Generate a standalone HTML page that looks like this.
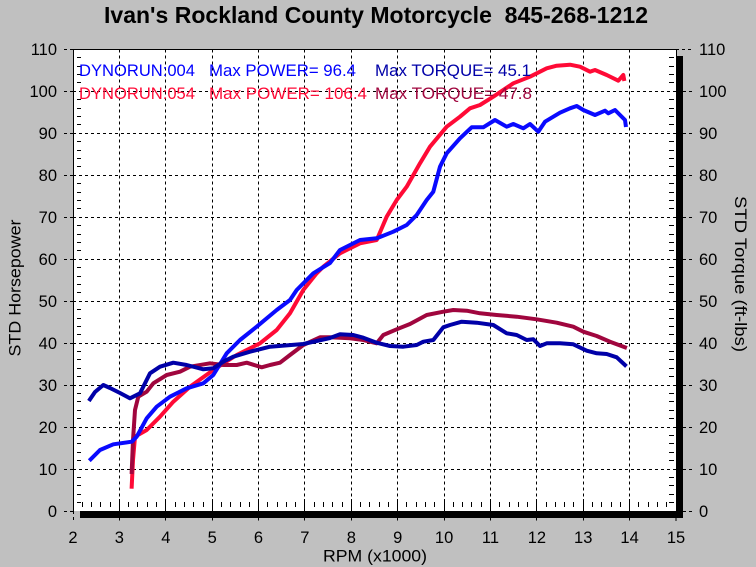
<!DOCTYPE html>
<html>
<head>
<meta charset="utf-8">
<style>
  html, body { margin: 0; padding: 0; background: #c0c0c0; }
  svg { display: block; }
  text { font-family: "Liberation Sans", Arial, sans-serif; }
</style>
</head>
<body>
<svg width="756" height="567" viewBox="0 0 756 567" xmlns="http://www.w3.org/2000/svg">
  <rect x="0" y="0" width="756" height="567" fill="#c0c0c0"/>

  <!-- Title -->
  <text x="104" y="23" font-size="23" font-weight="bold" fill="#000" textLength="544" lengthAdjust="spacingAndGlyphs" xml:space="preserve">Ivan's Rockland County Motorcycle  845-268-1212</text>

  <!-- Plot area -->
  <rect x="73" y="49.5" width="603" height="461.5" fill="#fff"/>

  <!-- Shadow -->
  <rect x="676" y="56" width="7" height="462" fill="#000"/>
  <rect x="80" y="511" width="603" height="7" fill="#000"/>

  <!-- Grid dashed -->
  <g stroke="#000" stroke-width="1" stroke-dasharray="3 3" fill="none">
    <path d="M119.5 49.5V523 M165.5 49.5V523 M212.5 49.5V523 M258.5 49.5V523 M304.5 49.5V523 M351.5 49.5V523 M397.5 49.5V523 M444.5 49.5V523 M490.5 49.5V523 M536.5 49.5V523 M583.5 49.5V523 M629.5 49.5V523 M676 518V523 M73.5 511V523"/>
    <path d="M73 469.5H676 M73 427.5H676 M73 385.5H676 M73 343.5H676 M73 301.5H676 M73 259.5H676 M73 217.5H676 M73 175.5H676 M73 133.5H676 M73 91.5H676"/>
    <!-- left outer ticks -->
    <path d="M64 511.5H73 M64 469.5H73 M64 427.5H73 M64 385.5H73 M64 343.5H73 M64 301.5H73 M64 259.5H73 M64 217.5H73 M64 175.5H73 M64 133.5H73 M64 91.5H73 M64 49.5H73"/>
    <!-- right outer ticks -->
    <path d="M683 511.5H692 M683 469.5H692 M683 427.5H692 M683 385.5H692 M683 343.5H692 M683 301.5H692 M683 259.5H692 M683 217.5H692 M683 175.5H692 M683 133.5H692 M683 91.5H692 M676 49.5H692"/>
  </g>

  <!-- Borders -->
  <path d="M73.5 511V49.5H676.5V56" stroke="#000" stroke-width="1" fill="none"/>

  <!-- Minor ticks -->
  <g stroke="#000" stroke-width="1" fill="none">
    <path d="M77 502.5h4M77 494.5h4M77 485.5h4M77 477.5h4M77 460.5h4M77 452.5h4M77 443.5h4M77 435.5h4M77 418.5h4M77 410.5h4M77 401.5h4M77 393.5h4M77 376.5h4M77 368.5h4M77 359.5h4M77 351.5h4M77 334.5h4M77 326.5h4M77 318.5h4M77 309.5h4M77 292.5h4M77 284.5h4M77 276.5h4M77 267.5h4M77 250.5h4M77 242.5h4M77 234.5h4M77 225.5h4M77 208.5h4M77 200.5h4M77 192.5h4M77 183.5h4M77 166.5h4M77 158.5h4M77 150.5h4M77 141.5h4M77 124.5h4M77 116.5h4M77 108.5h4M77 99.5h4M77 82.5h4M77 74.5h4M77 66.5h4M77 57.5h4"/>
    <path d="M669 502.5h5M669 494.5h5M669 485.5h5M669 477.5h5M669 460.5h5M669 452.5h5M669 443.5h5M669 435.5h5M669 418.5h5M669 410.5h5M669 401.5h5M669 393.5h5M669 376.5h5M669 368.5h5M669 359.5h5M669 351.5h5M669 334.5h5M669 326.5h5M669 318.5h5M669 309.5h5M669 292.5h5M669 284.5h5M669 276.5h5M669 267.5h5M669 250.5h5M669 242.5h5M669 234.5h5M669 225.5h5M669 208.5h5M669 200.5h5M669 192.5h5M669 183.5h5M669 166.5h5M669 158.5h5M669 150.5h5M669 141.5h5M669 124.5h5M669 116.5h5M669 108.5h5M669 99.5h5M669 82.5h5M669 74.5h5M669 66.5h5M669 57.5h5"/>
    <path d="M82.5 502v5M91.5 502v5M100.5 502v5M110.5 502v5M128.5 502v5M137.5 502v5M147.5 502v5M156.5 502v5M175.5 502v5M184.5 502v5M193.5 502v5M203.5 502v5M221.5 502v5M230.5 502v5M240.5 502v5M249.5 502v5M267.5 502v5M277.5 502v5M286.5 502v5M295.5 502v5M314.5 502v5M323.5 502v5M332.5 502v5M342.5 502v5M360.5 502v5M369.5 502v5M379.5 502v5M388.5 502v5M406.5 502v5M416.5 502v5M425.5 502v5M434.5 502v5M453.5 502v5M462.5 502v5M471.5 502v5M481.5 502v5M499.5 502v5M509.5 502v5M518.5 502v5M527.5 502v5M546.5 502v5M555.5 502v5M564.5 502v5M573.5 502v5M592.5 502v5M601.5 502v5M611.5 502v5M620.5 502v5M638.5 502v5M648.5 502v5M657.5 502v5M666.5 502v5"/>
    <path d="M119.5 499v12M165.5 499v12M212.5 499v12M258.5 499v12M304.5 499v12M351.5 499v12M397.5 499v12M444.5 499v12M490.5 499v12M536.5 499v12M583.5 499v12M629.5 499v12"/>
  </g>

  <!-- Curves -->
  <g fill="none" stroke-width="4" stroke-linejoin="round" stroke-linecap="square">
    <!-- Red power (run 054) -->
    <polyline stroke="#ff0a36" points="131.7,486.7 133,460 135,436.7 146.7,430 160,416.7 173.3,401.7 190,386.7 213.3,370 236.7,355 260,343.3 276.7,330 290,313.3 303.3,290 316.7,273.3 323.3,266.7 340,253.3 360,243.3 376.7,240 386.7,216.7 396.7,200 406.7,186.7 420,163.3 430,146.7 446.7,126.7 460,116.7 470,108.3 480,105 493.3,96.7 513.3,83.3 530,76.7 546.7,68.3 556.7,65.7 570,64.7 580,66.7 590,71.7 595,70 606.7,75 618.3,80.7 623.3,75 624,79"/>
    <!-- Maroon torque (run 054) -->
    <polyline stroke="#a0063e" points="131.7,472 133,440 135,410 138.3,396.7 146.7,391.7 153.3,383.3 166.7,375 180,371.7 190,366.7 210,363.3 223.3,365 236.7,365 246.7,362.7 261.7,367.3 270,365 280,362.7 290,355 303.3,345 320,337.3 330,337.3 350,338.3 363.3,340 376.7,343.3 383.3,335 396.7,329.3 410,324 426.7,315 443.3,311.7 453.3,310 466.7,310.7 480,313.3 496.7,315 516.7,316.7 536.7,319.3 556.7,322.7 573.3,326.7 583.3,331.7 596.7,336 610,341.7 625,347.3"/>
    <!-- Blue power (run 004) -->
    <polyline stroke="#0a0aff" points="90.7,459.3 100,450 113.3,444.3 131.7,441.7 136.7,436.7 146.7,418.3 156.7,406.7 170,396.7 186.7,388.3 203.3,383.3 213.3,375 226.7,353.3 240,340 256.7,326.7 276.7,310 290,300 296.7,290 313.3,273.3 330,263 340,250 360,240 376.7,238.3 393.3,231.7 406.7,225 416.7,215 426.7,200 433.3,191.7 440,166.7 446.7,153.3 460,138.3 471.7,127.3 483.3,127.3 495,120 506.7,126.7 513.3,124 523.3,128.3 530,124 538.3,131.7 545,121.7 560,112.7 570,108.3 576.7,106 583.3,110 595,115 605,110.7 608.3,113.3 615,110 620,115 625,120 625.7,125"/>
    <!-- Navy torque (run 004) -->
    <polyline stroke="#0000a8" points="90,399.3 95,392 103.3,385 110,388 120,393 130,398.3 140,393.3 150,373.3 160,366.7 173.3,362.7 186.7,365 203.3,369.3 213.3,368.3 223.3,361.7 233.3,356.7 250,351.7 270,346.7 303.3,344 330,338 340,334.3 353.3,335 363.3,337.7 376.7,342.7 390,346 403.3,346.7 416.7,345 423.3,341.7 433.3,340 443.3,327.3 450,325 461.7,321.7 476.7,322.7 493.3,325 506.7,333.3 516.7,335 526.7,340 533.3,339.3 540,346 546.7,343.3 560,343.3 573.3,344.3 586.7,350.7 596.7,353.3 606.7,354 616.7,357.3 625,365"/>
  </g>

  <!-- Legend -->
  <g font-size="16.5">
    <text x="79" y="76" fill="#0000ff" textLength="116" lengthAdjust="spacingAndGlyphs">DYNORUN:004</text>
    <text x="209" y="76" fill="#0000ff" textLength="147" lengthAdjust="spacingAndGlyphs">Max POWER= 96.4</text>
    <text x="375" y="76" fill="#0000a8" textLength="156" lengthAdjust="spacingAndGlyphs">Max TORQUE= 45.1</text>
    <text x="79" y="99" fill="#ff0a36" textLength="116" lengthAdjust="spacingAndGlyphs">DYNORUN:054</text>
    <text x="209" y="99" fill="#ff0a36" textLength="158" lengthAdjust="spacingAndGlyphs">Max POWER= 106.4</text>
    <text x="375" y="99" fill="#a0063e" textLength="157" lengthAdjust="spacingAndGlyphs">Max TORQUE= 47.8</text>
  </g>

  <!-- Left axis labels -->
  <g font-size="16.5" fill="#000" text-anchor="end">
    <text x="57" y="517">0</text>
    <text x="57" y="475">10</text>
    <text x="57" y="433">20</text>
    <text x="57" y="391">30</text>
    <text x="57" y="349">40</text>
    <text x="57" y="307">50</text>
    <text x="57" y="265">60</text>
    <text x="57" y="223">70</text>
    <text x="57" y="181">80</text>
    <text x="57" y="139">90</text>
    <text x="57" y="97">100</text>
    <text x="57" y="55">110</text>
  </g>

  <!-- Right axis labels -->
  <g font-size="16.5" fill="#000" text-anchor="start">
    <text x="699" y="517">0</text>
    <text x="699" y="475">10</text>
    <text x="699" y="433">20</text>
    <text x="699" y="391">30</text>
    <text x="699" y="349">40</text>
    <text x="699" y="307">50</text>
    <text x="699" y="265">60</text>
    <text x="699" y="223">70</text>
    <text x="699" y="181">80</text>
    <text x="699" y="139">90</text>
    <text x="699" y="97">100</text>
    <text x="699" y="55">110</text>
  </g>

  <!-- X axis labels -->
  <g font-size="16.5" fill="#000" text-anchor="middle">
    <text x="73" y="543">2</text>
    <text x="119.4" y="543">3</text>
    <text x="165.8" y="543">4</text>
    <text x="212.2" y="543">5</text>
    <text x="258.5" y="543">6</text>
    <text x="304.9" y="543">7</text>
    <text x="351.3" y="543">8</text>
    <text x="397.7" y="543">9</text>
    <text x="444.1" y="543">10</text>
    <text x="490.5" y="543">11</text>
    <text x="536.9" y="543">12</text>
    <text x="583.2" y="543">13</text>
    <text x="629.6" y="543">14</text>
    <text x="676" y="543">15</text>
  </g>

  <!-- Axis titles -->
  <text x="323" y="561.5" font-size="17" fill="#000" textLength="104" lengthAdjust="spacingAndGlyphs">RPM (x1000)</text>
  <text transform="translate(20.5,356.5) rotate(-90)" font-size="17" fill="#000" textLength="137" lengthAdjust="spacingAndGlyphs">STD Horsepower</text>
  <text transform="translate(735,196) rotate(90)" font-size="17" fill="#000" textLength="156" lengthAdjust="spacingAndGlyphs">STD Torque (ft-lbs)</text>
</svg>
</body>
</html>
